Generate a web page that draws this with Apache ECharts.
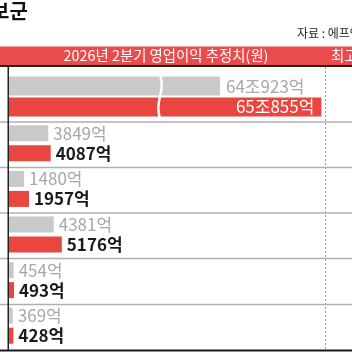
<!DOCTYPE html>
<html><head><meta charset="utf-8">
<script src="https://cdn.jsdelivr.net/npm/echarts@6/dist/echarts.min.js"></script>
<style>html,body{margin:0;padding:0;background:#fff}#c{width:352px;height:352px}</style>
</head><body><div id="c"></div>
<script>
// ---- data ----
const categories = ['종목1', '종목2', '종목3', '종목4', '종목5', '종목6'];
const prevEstimate = [640923, 3849, 1480, 4381, 454, 369];   // 억원 (gray)
const currEstimate = [650855, 4087, 1957, 5176, 493, 428];   // 억원 (red)
const headerTitle = '2026년 2분기 영업이익 추정치(원)';
const headerRight = '최고';
const chartTitle = '보군';
const sourceText = '자료 : 에프앤가이드';
const breakRange = { start: 14800, end: 635345, gap: 300 };

function fmt(v) {
  return v >= 10000 ? Math.floor(v / 10000) + '조' + (v % 10000) + '억' : v + '억';
}

const RED = '#e8463f', GRAY = '#c9c9c9';
const LABEL_FONT = "'Liberation Sans Narrow','Arial Narrow','Noto Sans CJK KR',sans-serif";
const KFONT = "'Noto Sans CJK KR',sans-serif";
const W = 320;
const maxB = 31360;
const maxA = maxB + (breakRange.end - breakRange.start) - breakRange.gap;

const chart = echarts.init(document.getElementById('c'), null, { renderer: 'canvas' });

const rowLines = [122, 167.5, 213, 258.5, 304.5].map(y => ({
  type: 'line', z: 10, shape: { x1: 0, y1: y, x2: 352, y2: y },
  style: { stroke: '#b0b0b0', lineWidth: 1.5 }
}));

chart.setOption({
  animation: false,
  backgroundColor: '#fff',
  grid: [
    { left: 9, top: 69, width: W, height: 55 },
    { left: 9, top: 120.5, width: W, height: 228 }
  ],
  xAxis: [
    { type: 'value', gridIndex: 0, min: 0, max: maxA, show: false,
      splitLine: { show: false },
      breaks: [breakRange],
      breakArea: { show: false } },
    { type: 'value', gridIndex: 1, min: 0, max: maxB, show: false, splitLine: { show: false } }
  ],
  yAxis: [
    { type: 'category', gridIndex: 0, data: categories.slice(0, 1), inverse: true, show: false },
    { type: 'category', gridIndex: 1, data: categories.slice(1), inverse: true, show: false }
  ],
  series: [
    { type: 'bar', name: '이전', xAxisIndex: 0, yAxisIndex: 0, data: prevEstimate.slice(0, 1),
      barWidth: 19, barGap: '10%', itemStyle: { color: GRAY },
      label: { show: true, position: 'right', distance: 6, formatter: p => fmt(p.value),
        color: '#a8a8a8', fontSize: 17, fontFamily: LABEL_FONT } },
    { type: 'bar', name: '현재', xAxisIndex: 0, yAxisIndex: 0, data: currEstimate.slice(0, 1),
      barWidth: 19, barGap: '10%', itemStyle: { color: RED },
      label: { show: true, position: 'insideRight', distance: 7, formatter: p => fmt(p.value),
        color: '#fff', fontSize: 17, fontFamily: LABEL_FONT } },
    { type: 'bar', name: '이전', xAxisIndex: 1, yAxisIndex: 1, data: prevEstimate.slice(1),
      barWidth: 16, barGap: '25%', itemStyle: { color: GRAY },
      label: { show: true, position: 'right', distance: 5, formatter: p => fmt(p.value),
        color: '#a8a8a8', fontSize: 17, fontFamily: LABEL_FONT } },
    { type: 'bar', name: '현재', xAxisIndex: 1, yAxisIndex: 1, data: currEstimate.slice(1),
      barWidth: 16, barGap: '25%', itemStyle: { color: RED },
      label: { show: true, position: 'right', distance: 5, formatter: p => fmt(p.value),
        color: '#1a1a1a', fontWeight: 'bold', fontSize: 17, fontFamily: LABEL_FONT } }
  ],
  graphic: [
    { type: 'text', x: -9, y: 1, style: { text: chartTitle, font: "bold 20px " + KFONT, fill: '#111', textVerticalAlign: 'top' } },
    { type: 'text', x: 297, y: 33, style: { text: sourceText, font: "12px " + KFONT, fill: '#222', textVerticalAlign: 'middle' } },
    { type: 'rect', z: 5, shape: { x: 0, y: 46.5, width: 352, height: 19 }, style: { fill: '#e84c4c' } },
    { type: 'text', z: 6, x: 166, y: 56, style: { text: headerTitle, font: "14.4px " + KFONT, fill: '#fff', textAlign: 'center', textVerticalAlign: 'middle' } },
    { type: 'text', z: 6, x: 331, y: 56, style: { text: headerRight, font: "14.4px " + KFONT, fill: '#fff', textVerticalAlign: 'middle' } },
    { type: 'line', z: 7, shape: { x1: 0, y1: 66, x2: 352, y2: 66 }, style: { stroke: '#2a1f1f', lineWidth: 2 } },
    { type: 'line', z: 4, shape: { x1: 325.5, y1: 67, x2: 325.5, y2: 350 }, style: { stroke: '#9a9a9a', lineWidth: 1, lineDash: [2, 2] } },
    ...rowLines,
    { type: 'line', z: 11, shape: { x1: 8.25, y1: 67, x2: 8.25, y2: 350 }, style: { stroke: '#222', lineWidth: 1.5 } },
    { type: 'line', z: 11, shape: { x1: 0, y1: 350.5, x2: 352, y2: 350.5 }, style: { stroke: '#1a1a1a', lineWidth: 2 } }
  ]
});

// white wavy break mark at the axis-break position (pixel from the library's scale)
const bx = chart.convertToPixel({ xAxisIndex: 0 }, breakRange.start);
const wave = [];
for (let y = 74; y <= 119; y += 1.5) {
  wave.push([bx + 1.6 * Math.sin((y - 74) / 45 * Math.PI * 2), y]);
}
chart.setOption({
  graphic: [{ id: 'breakWave', type: 'polyline', z: 20, shape: { points: wave, smooth: 0.3 },
    style: { stroke: '#fff', lineWidth: 2.5, fill: null } }]
});
</script></body></html>
